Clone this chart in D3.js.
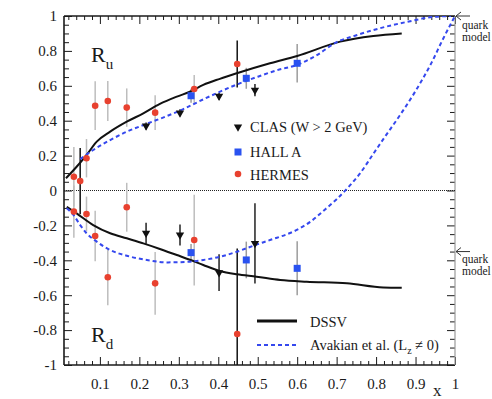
<!DOCTYPE html>
<html>
<head>
<meta charset="utf-8">
<script src="https://cdn.jsdelivr.net/npm/d3@7"></script>
<style>
  html, body { margin: 0; padding: 0; background: #fff; }
  svg { display: block; }
</style>
</head>
<body>
<svg id="chart" width="492" height="399"></svg>
<script>
// ---- data ---------------------------------------------------------------
// HERMES (red circles)
const hermesXu   = [0.034, 0.050, 0.066, 0.088, 0.120, 0.168, 0.240, 0.339, 0.448];
const hermesRu   = [0.079, 0.054, 0.185, 0.486, 0.513, 0.475, 0.446, 0.582, 0.725];
const hermesRuEr = [0.17, 0.19, 0.11, 0.14, 0.115, 0.11, 0.10, 0.08, 0.135];
const hermesXd   = [0.034, 0.066, 0.088, 0.120, 0.168, 0.240, 0.339, 0.448];
const hermesRd   = [-0.121, -0.135, -0.261, -0.497, -0.096, -0.532, -0.284, -0.822];
const hermesRdEr = [0.15, 0.10, 0.145, 0.16, 0.14, 0.18, 0.26, 0.49];

// Hall A (blue squares)
const hallX    = [0.331, 0.471, 0.600];
const hallRu   = [0.543, 0.643, 0.729];
const hallRuEr = [0.04, 0.06, 0.11];
const hallRd   = [-0.356, -0.398, -0.446];
const hallRdEr = [0.05, 0.105, 0.155];

// CLAS, W > 2 GeV (black down triangles)
const clasX    = [0.217, 0.303, 0.402, 0.493];
const clasRu   = [0.370, 0.445, 0.540, 0.575];
const clasRuEr = [0.02, 0.02, 0.02, 0.035];
const clasRd   = [-0.245, -0.255, -0.471, -0.303];
const clasRdEr = [0.06, 0.06, 0.105, 0.23];

// DSSV curves
const dssvXu = [0.014, 0.041, 0.066, 0.092, 0.126, 0.168, 0.21, 0.252, 0.295, 0.328, 0.362, 0.404, 0.447, 0.531, 0.60, 0.709, 0.793, 0.865];
const dssvRu = [0.07, 0.136, 0.203, 0.28, 0.337, 0.394, 0.442, 0.496, 0.538, 0.566, 0.605, 0.64, 0.672, 0.729, 0.771, 0.853, 0.885, 0.90];
const dssvXd = [0.016, 0.041, 0.083, 0.126, 0.168, 0.21, 0.252, 0.295, 0.328, 0.362, 0.404, 0.447, 0.497, 0.557, 0.624, 0.726, 0.818, 0.865];
const dssvRd = [-0.093, -0.131, -0.198, -0.245, -0.274, -0.303, -0.335, -0.37, -0.397, -0.427, -0.461, -0.48, -0.494, -0.513, -0.523, -0.532, -0.556, -0.558];

// Avakian et al. (Lz != 0) curves
const avakXu = [0.05, 0.083, 0.126, 0.168, 0.21, 0.26, 0.31, 0.36, 0.40, 0.45, 0.50, 0.55, 0.60, 0.65, 0.70, 0.75, 0.81, 0.88, 0.945, 0.99];
const avakRu = [0.18, 0.232, 0.289, 0.337, 0.375, 0.418, 0.465, 0.52, 0.562, 0.61, 0.652, 0.69, 0.72, 0.776, 0.85, 0.89, 0.93, 0.967, 0.995, 1.0];
const avakXd = [0.016, 0.033, 0.05, 0.066, 0.092, 0.126, 0.168, 0.219, 0.269, 0.328, 0.362, 0.404, 0.447, 0.497, 0.531, 0.599, 0.633, 0.67, 0.70, 0.73, 0.76, 0.79, 0.82, 0.86, 0.90, 0.94, 0.97, 1.0];
const avakRd = [-0.102, -0.14, -0.198, -0.245, -0.293, -0.341, -0.374, -0.398, -0.412, -0.408, -0.398, -0.38, -0.351, -0.31, -0.284, -0.226, -0.18, -0.11, -0.05, 0.02, 0.10, 0.20, 0.30, 0.43, 0.57, 0.73, 0.87, 1.0];

// axis ticks and labels
const xTickValues = [0.1, 0.2, 0.3, 0.4, 0.5, 0.6, 0.7, 0.8, 0.9, 1];
const xTickLabels = ["0.1", "0.2", "0.3", "0.4", "0.5", "0.6", "0.7", "0.8", "0.9", "1"];
const yTickValues = [-1, -0.8, -0.6, -0.4, -0.2, 0, 0.2, 0.4, 0.6, 0.8, 1];
const yTickLabels = ["-1", "-0.8", "-0.6", "-0.4", "-0.2", "0", "0.2", "0.4", "0.6", "0.8", "1"];
const quarkModelU = 1;
const quarkModelD = -0.35;

// ---- layout -------------------------------------------------------------
const SERIF = '"Liberation Serif"';
const svg = d3.select("#chart");
const frame = { left: 64, right: 455, top: 16, bottom: 365 };
const x = d3.scaleLinear().domain([0.009, 1]).range([frame.left, frame.right]);
const y = d3.scaleLinear().domain([-1, 1]).range([frame.bottom, frame.top]);

const RED = "#e8412f", BLUE = "#2a52f0", DASHBLUE = "#3548ee";
const ink = "#1a1a1a";

svg.append("defs").append("clipPath").attr("id", "plot")
  .append("rect").attr("x", frame.left).attr("y", frame.top)
  .attr("width", frame.right - frame.left).attr("height", frame.bottom - frame.top);

function label(parent, xp, yp, str, size) {
  return parent.append("text").attr("x", xp).attr("y", yp)
    .style("font-family", SERIF).attr("font-size", size).attr("fill", ink).text(str);
}

// ---- axes (ticks point inward) -------------------------------------------
const minorX = d3.range(0.02, 1.0001, 0.02).filter(v => Math.abs(v * 10 - Math.round(v * 10)) > 1e-6);
const minorY = d3.range(-1, 1.0001, 0.05).filter(v => Math.abs(v * 5 - Math.round(v * 5)) > 1e-6);

function styleAxis(g) {
  g.select(".domain").remove();
  g.selectAll(".tick line").attr("stroke", ink).attr("stroke-width", 1);
  g.selectAll(".tick text").attr("fill", ink).attr("font-size", 15).style("font-family", SERIF);
}

// bottom
svg.append("g").attr("transform", `translate(0,${frame.bottom})`)
  .call(d3.axisBottom(x).tickValues(xTickValues).tickSize(-8).tickPadding(13)
    .tickFormat((d, i) => xTickLabels[i]))
  .call(styleAxis);
svg.append("g").attr("transform", `translate(0,${frame.bottom})`)
  .call(d3.axisBottom(x).tickValues(minorX).tickSize(-4).tickFormat(""))
  .call(styleAxis);
// top
svg.append("g").attr("transform", `translate(0,${frame.top})`)
  .call(d3.axisTop(x).tickValues(xTickValues).tickSize(-8).tickFormat(""))
  .call(styleAxis);
svg.append("g").attr("transform", `translate(0,${frame.top})`)
  .call(d3.axisTop(x).tickValues(minorX).tickSize(-4).tickFormat(""))
  .call(styleAxis);
// left
svg.append("g").attr("transform", `translate(${frame.left},0)`)
  .call(d3.axisLeft(y).tickValues(yTickValues).tickSize(-8).tickPadding(7)
    .tickFormat((d, i) => yTickLabels[i]))
  .call(styleAxis);
svg.append("g").attr("transform", `translate(${frame.left},0)`)
  .call(d3.axisLeft(y).tickValues(minorY).tickSize(-5).tickFormat(""))
  .call(styleAxis);
// right
svg.append("g").attr("transform", `translate(${frame.right},0)`)
  .call(d3.axisRight(y).tickValues(yTickValues).tickSize(-8).tickFormat(""))
  .call(styleAxis);
svg.append("g").attr("transform", `translate(${frame.right},0)`)
  .call(d3.axisRight(y).tickValues(minorY).tickSize(-5).tickFormat(""))
  .call(styleAxis);

// frame
svg.append("line").attr("x1", frame.left).attr("x2", frame.right).attr("y1", frame.top).attr("y2", frame.top)
  .attr("stroke", ink).attr("stroke-width", 1.6);
svg.append("line").attr("x1", frame.left).attr("x2", frame.right).attr("y1", frame.bottom).attr("y2", frame.bottom)
  .attr("stroke", ink).attr("stroke-width", 1.6);
svg.append("line").attr("x1", frame.left).attr("x2", frame.left).attr("y1", frame.top).attr("y2", frame.bottom)
  .attr("stroke", ink).attr("stroke-width", 1.6);
svg.append("line").attr("x1", frame.right).attr("x2", frame.right).attr("y1", frame.top).attr("y2", frame.bottom)
  .attr("stroke", "#9a9a9a").attr("stroke-width", 1.2);

// zero line
svg.append("line").attr("x1", frame.left).attr("x2", frame.right).attr("y1", y(0)).attr("y2", y(0))
  .attr("stroke", "#222").attr("stroke-width", 1).attr("stroke-dasharray", "1,1");

// ---- plot body ----------------------------------------------------------
const plot = svg.append("g").attr("clip-path", "url(#plot)");

const line = d3.line().x(d => x(d[0])).y(d => y(d[1])).curve(d3.curveMonotoneX);

// error bars first
function bars(xs, vs, es, color, darkRule) {
  plot.append("g").selectAll("line").data(xs.map((v, i) => [v, vs[i], es[i]]))
    .join("line")
    .attr("x1", d => x(d[0])).attr("x2", d => x(d[0]))
    .attr("y1", d => y(d[1] + d[2])).attr("y2", d => y(d[1] - d[2]))
    .attr("stroke", d => (darkRule && darkRule(d[0])) ? "#111" : color)
    .attr("stroke-width", 1.5);
}
const hermesDark = v => v === 0.050 || v > 0.44;
bars(hermesXu, hermesRu, hermesRuEr, "#bdbdbd", hermesDark);
bars(hermesXd, hermesRd, hermesRdEr, "#bdbdbd", hermesDark);
bars(hallX, hallRu, hallRuEr, "#9c9c9c");
bars(hallX, hallRd, hallRdEr, "#9c9c9c");
bars(clasX, clasRu, clasRuEr, "#222");
bars(clasX, clasRd, clasRdEr, "#222");

// curves
plot.append("path").datum(dssvXu.map((v, i) => [v, dssvRu[i]]))
  .attr("d", line).attr("fill", "none").attr("stroke", "#111").attr("stroke-width", 2);
plot.append("path").datum(dssvXd.map((v, i) => [v, dssvRd[i]]))
  .attr("d", line).attr("fill", "none").attr("stroke", "#111").attr("stroke-width", 2);
plot.append("path").datum(avakXu.map((v, i) => [v, avakRu[i]]))
  .attr("d", line).attr("fill", "none").attr("stroke", DASHBLUE).attr("stroke-width", 2)
  .attr("stroke-dasharray", "4,3");
plot.append("path").datum(avakXd.map((v, i) => [v, avakRd[i]]))
  .attr("d", line).attr("fill", "none").attr("stroke", DASHBLUE).attr("stroke-width", 2)
  .attr("stroke-dasharray", "4,3");

// markers
const tri = d3.symbol().type(d3.symbolTriangle).size(30);
function triangles(g, pts) {
  g.append("g").selectAll("path").data(pts).join("path")
    .attr("d", tri).attr("fill", "#111")
    .attr("transform", d => `translate(${d[0]},${d[1]}) rotate(180)`);
}
function squares(g, pts) {
  g.append("g").selectAll("rect").data(pts).join("rect")
    .attr("x", d => d[0] - 3.5).attr("y", d => d[1] - 3.5)
    .attr("width", 7).attr("height", 7).attr("fill", BLUE);
}
function circles(g, pts) {
  g.append("g").selectAll("circle").data(pts).join("circle")
    .attr("cx", d => d[0]).attr("cy", d => d[1]).attr("r", 3.3).attr("fill", RED);
}
const px = (xs, vs) => xs.map((v, i) => [x(v), y(vs[i])]);
triangles(plot, px(clasX, clasRu));
triangles(plot, px(clasX, clasRd));
squares(plot, px(hallX, hallRu));
squares(plot, px(hallX, hallRd));
circles(plot, px(hermesXu, hermesRu));
circles(plot, px(hermesXd, hermesRd));

// ---- labels ---------------------------------------------------------------
function sublabel(xp, yp, main, sub) {
  const t = label(svg, xp, yp, null, 22);
  t.append("tspan").text(main);
  t.append("tspan").attr("font-size", 15).attr("dy", 7).text(sub);
}
sublabel(91, 62, "R", "u");
sublabel(91, 342, "R", "d");

// data legend
const legX = 238;
triangles(svg, [[legX, 127]]);
squares(svg, [[legX, 152]]);
circles(svg, [[legX, 174]]);
[["CLAS (W > 2 GeV)", 132], ["HALL A", 157], ["HERMES", 180]]
  .forEach(([s, yy]) => label(svg, 250, yy, s, 14.5));

// curve legend
svg.append("line").attr("x1", 257).attr("x2", 297).attr("y1", 321).attr("y2", 321)
  .attr("stroke", "#111").attr("stroke-width", 3);
label(svg, 310, 327, "DSSV", 14.5);
svg.append("line").attr("x1", 257).attr("x2", 297).attr("y1", 345).attr("y2", 345)
  .attr("stroke", DASHBLUE).attr("stroke-width", 2).attr("stroke-dasharray", "4,3");
const av = label(svg, 310, 350, null, 14.5);
av.append("tspan").text("Avakian et al. (L");
av.append("tspan").attr("font-size", 10).attr("dy", 4).text("z");
av.append("tspan").attr("dy", -4).text(" \u2260 0)");

// x axis title
label(svg, 433, 396, "x", 17);

// quark model markers on the right
function quarkModel(v, dy) {
  const yy = y(v);
  const r = frame.right;
  svg.append("line").attr("x1", r + 1).attr("x2", r + 15).attr("y1", yy).attr("y2", yy)
    .attr("stroke", "#333").attr("stroke-width", 1);
  svg.append("path").attr("d", `M${r + 6},${yy - 4} L${r + 1},${yy} L${r + 6},${yy + 4}`)
    .attr("fill", "none").attr("stroke", "#333").attr("stroke-width", 1);
  label(svg, r + 7, yy + dy, "quark", 11.5);
  label(svg, r + 7, yy + dy + 12, "model", 11.5);
}
quarkModel(quarkModelU, 13);
quarkModel(quarkModelD, 11);
</script>
</body>
</html>
